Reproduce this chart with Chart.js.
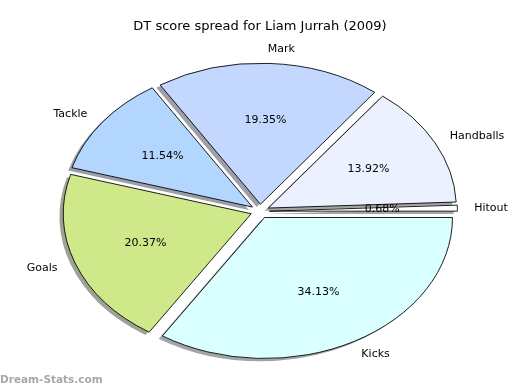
<!DOCTYPE html>
<html>
<head>
<meta charset="utf-8">
<script src="https://cdn.jsdelivr.net/npm/chart.js@4.4.1/dist/chart.umd.min.js"></script>
<style>
html,body{margin:0;padding:0;background:#ffffff;}
canvas{display:block;}
</style>
</head>
<body>
<canvas id="c" width="520" height="390"></canvas>
<script>
// ---- data (matplotlib order: counter-clockwise from 3 o'clock) ----
const chartTitle = 'DT score spread for Liam Jurrah (2009)';
const categories = ['Hitout', 'Handballs', 'Mark', 'Tackle', 'Goals', 'Kicks'];
const shares = [0.68, 13.92, 19.35, 11.54, 20.37, 34.13];
const sliceColours = ['#ffffff', '#ebf1ff', '#c4d8ff', '#b3d6ff', '#cfe98a', '#d9ffff'];
const watermark = 'Dream-Stats.com';

// ---- geometry / style ----
const RADIUS = 188;      // horizontal radius in px
const SQUASH = 0.75;     // vertical / horizontal radius ratio (elliptical pie)
const EXPLODE = 0.05;    // fraction of radius
const LABEL_DIST = 1.1;
const PCT_DIST = 0.6;
const SHADOW = 0.02;     // fraction of radius
const FONT = '"DejaVu Sans", Verdana, sans-serif';

// Chart.js draws clockwise; reverse to reproduce the counter-clockwise layout
const idx = categories.map((_, i) => categories.length - 1 - i);
const cjLabels = idx.map(i => categories[i]);
const cjValues = idx.map(i => shares[i]);
const cjColours = idx.map(i => sliceColours[i]);

function hexRgb(h) {
  const n = parseInt(h.slice(1), 16);
  return [(n >> 16) & 255, (n >> 8) & 255, n & 255];
}

const mplPie = {
  id: 'mplPie',
  beforeDatasetsDraw(chart) {
    const { ctx, chartArea } = chart;
    const cx = (chartArea.left + chartArea.right) / 2;
    const cy = (chartArea.top + chartArea.bottom) / 2;
    const arcs = chart.getDatasetMeta(0).data;
    arcs.forEach(a => {
      const mid = (a.startAngle + a.endAngle) / 2;
      const off = EXPLODE * a.outerRadius;
      a.x = cx + Math.cos(mid) * off;
      a.y = cy + Math.sin(mid) * off;
    });
    ctx.save();
    ctx.translate(cx, cy);
    ctx.scale(1, SQUASH);
    ctx.translate(-cx, -cy);
    // shadows (matplotlib style: 0.3*colour, alpha 0.5, offset left/down)
    arcs.forEach((a, i) => {
      const [r, g, b] = hexRgb(cjColours[i]);
      const col = `rgba(${Math.round(0.3 * r)},${Math.round(0.3 * g)},${Math.round(0.3 * b)},0.5)`;
      ctx.save();
      ctx.translate(-SHADOW * a.outerRadius, SHADOW * a.outerRadius);
      ctx.beginPath();
      ctx.moveTo(a.x, a.y);
      ctx.arc(a.x, a.y, a.outerRadius, a.startAngle, a.endAngle);
      ctx.closePath();
      ctx.fillStyle = col;
      ctx.fill();
      ctx.restore();
    });
  },
  afterDatasetsDraw(chart) {
    const { ctx, chartArea } = chart;
    ctx.restore();
    const cx = (chartArea.left + chartArea.right) / 2;
    const cy = (chartArea.top + chartArea.bottom) / 2;
    const arcs = chart.getDatasetMeta(0).data;
    ctx.save();
    ctx.fillStyle = '#000000';
    ctx.textBaseline = 'middle';
    ctx.font = '11px ' + FONT;
    arcs.forEach((a, i) => {
      const mid = (a.startAngle + a.endAngle) / 2;
      const R = a.outerRadius;
      const c = Math.cos(mid), s = Math.sin(mid);
      // category label
      const lx = cx + c * R * (LABEL_DIST + EXPLODE);
      const ly = cy + s * R * (LABEL_DIST + EXPLODE) * SQUASH;
      ctx.textAlign = c > 0 ? 'left' : 'right';
      ctx.fillText(cjLabels[i], lx - (c > 0 ? 2 : 0), ly);
      // percentage
      const px = cx + c * R * (PCT_DIST + EXPLODE);
      const py = cy + s * R * (PCT_DIST + EXPLODE) * SQUASH;
      ctx.textAlign = 'center';
      ctx.fillText(cjValues[i].toFixed(2) + '%', px, py);
    });
    ctx.restore();
  },
  afterDraw(chart) {
    const { ctx } = chart;
    ctx.save();
    ctx.font = 'bold 10.5px ' + FONT;
    ctx.fillStyle = '#a8a8a8';
    ctx.textAlign = 'left';
    ctx.textBaseline = 'middle';
    ctx.fillText(watermark, 0, 380);
    ctx.restore();
  }
};

new Chart(document.getElementById('c'), {
  type: 'pie',
  data: {
    labels: cjLabels,
    datasets: [{
      data: cjValues,
      backgroundColor: cjColours,
      borderColor: '#000000',
      borderWidth: 1,
      borderJoinStyle: 'miter',
      radius: RADIUS,
      clip: false
    }]
  },
  options: {
    responsive: false,
    animation: false,
    events: [],
    rotation: 90,
    layout: { padding: { top: 0, bottom: 2, left: 0, right: 0 } },
    plugins: {
      legend: { display: false },
      tooltip: { enabled: false },
      title: {
        display: true,
        text: chartTitle,
        color: '#000000',
        font: { family: FONT, size: 13, weight: 'normal' },
        padding: { top: 19, bottom: 0 }
      }
    }
  },
  plugins: [mplPie]
});
</script>
</body>
</html>
